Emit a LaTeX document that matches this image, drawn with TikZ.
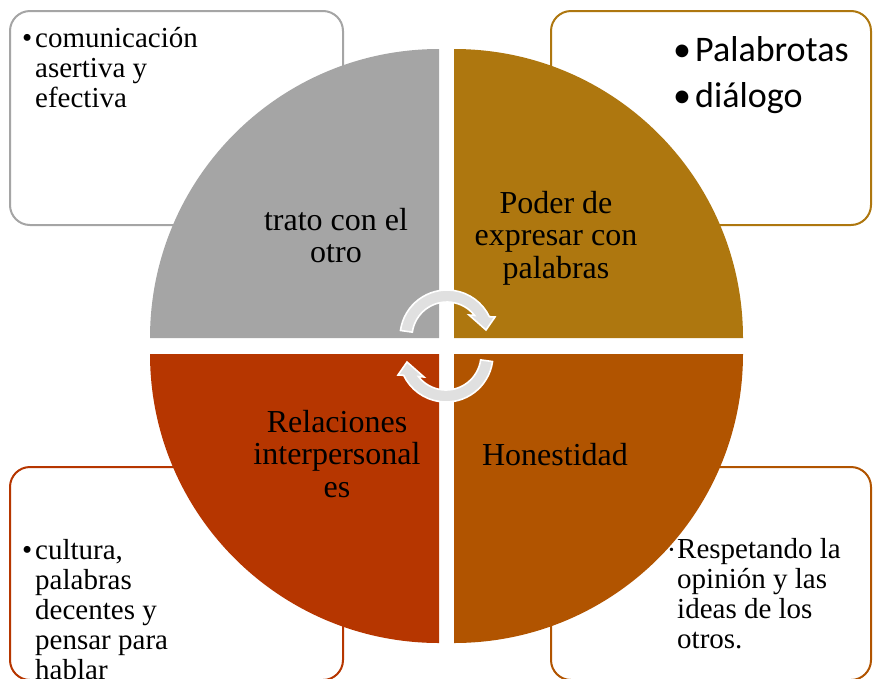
\documentclass[tikz,border=0pt]{standalone}
\usepackage{fontspec}
\setmainfont{Liberation Serif}
\newfontfamily\calibfont{Carlito}
\definecolor{qgray}{RGB}{165,165,165}
\definecolor{qtan}{RGB}{174,119,15}
\definecolor{qbrown}{RGB}{177,84,0}
\definecolor{qred}{RGB}{182,54,0}
\definecolor{arrowfill}{RGB}{224,224,224}
\begin{document}
\begin{tikzpicture}[x=1pt,y=-1pt,
  infobox/.style={draw, line width=2pt, rounded corners=20pt, fill=white},
  quadtext/.style={anchor=base, inner sep=0pt, font=\fontsize{32}{32.7}\selectfont},
  boxtext/.style={anchor=base west, inner sep=0pt, font=\fontsize{29}{30.2}\selectfont},
  calibtext/.style={anchor=base west, inner sep=0pt, font=\calibfont\fontsize{36}{46}\selectfont},
  cyclearrow/.style={fill=arrowfill, draw=white, line width=1.6pt, line join=miter}
]
\useasboundingbox (0,0) rectangle (873,678);

% side boxes (behind the circle)
\draw[infobox, draw=qgray]  (10,11) rectangle (343,225);
\draw[infobox, draw=qtan]   (551,11) rectangle (871,225);
\draw[infobox, draw=qred]   (10,467) rectangle (343,680);
\draw[infobox, draw=qbrown] (551,467) rectangle (871,680);

% quadrants
\fill[qgray]  (439,338) -- ++(-289,0) arc[start angle=180, end angle=270, radius=289] -- cycle;
\fill[qtan]   (454,338) -- ++(0,-289) arc[start angle=270, end angle=360, radius=289] -- cycle;
\fill[qbrown] (454,354) -- ++(289,0) arc[start angle=0, end angle=90, radius=289] -- cycle;
\fill[qred]   (439,354) -- ++(0,289) arc[start angle=90, end angle=180, radius=289] -- cycle;

% quadrant labels
\node[quadtext] (trato) at (336,230) {\begin{tabular}[t]{@{}c@{}}trato con el\\otro\end{tabular}};
\node[quadtext] (poder) at (556,213) {\begin{tabular}[t]{@{}c@{}}Poder de\\expresar con\\palabras\end{tabular}};
\node[quadtext] (relaciones) at (337,432) {\begin{tabular}[t]{@{}c@{}}Relaciones\\interpersonal\\es\end{tabular}};
\node[quadtext] (honestidad) at (555,465) {Honestidad};

% box texts
\node[boxtext] (tl) at (22,47) {\begin{tabular}[t]{@{}l@{}l@{}}\makebox[13pt][l]{•}&comunicación\\&asertiva y\\&efectiva\end{tabular}};
\node[calibtext] (tr) at (673,61) {\begin{tabular}[t]{@{}l@{}l@{}}\makebox[22pt][l]{•}&Palabrotas\\\makebox[22pt][l]{•}&diálogo\end{tabular}};
\node[boxtext] (bl) at (22,559) {\begin{tabular}[t]{@{}l@{}l@{}}\makebox[13pt][l]{•}&cultura,\\&palabras\\&decentes y\\&pensar para\\&hablar\end{tabular}};
\node[boxtext] (br) at (669,558) {\begin{tabular}[t]{@{}l@{}l@{}}\makebox[8pt][l]{\raisebox{4pt}{\fontsize{14}{14}\selectfont•}}&Respetando la\\&opinión y las\\&ideas de los\\&otros.\end{tabular}};

% circular arrows
\path[cyclearrow] (447,337) ++(-38:35) arc[start angle=-38, end angle=-172, radius=35]
  -- ++(-172:12) arc[start angle=-172, end angle=-25.6, radius=47]
  -- (495,317) -- (486,330) -- (469,315) -- cycle;
\path[cyclearrow] (446,355) ++(142:35) arc[start angle=142, end angle=8, radius=35]
  -- ++(8:12) arc[start angle=8, end angle=154.4, radius=47]
  -- (398,375) -- (407,362) -- (424,377) -- cycle;
\end{tikzpicture}
\end{document}
